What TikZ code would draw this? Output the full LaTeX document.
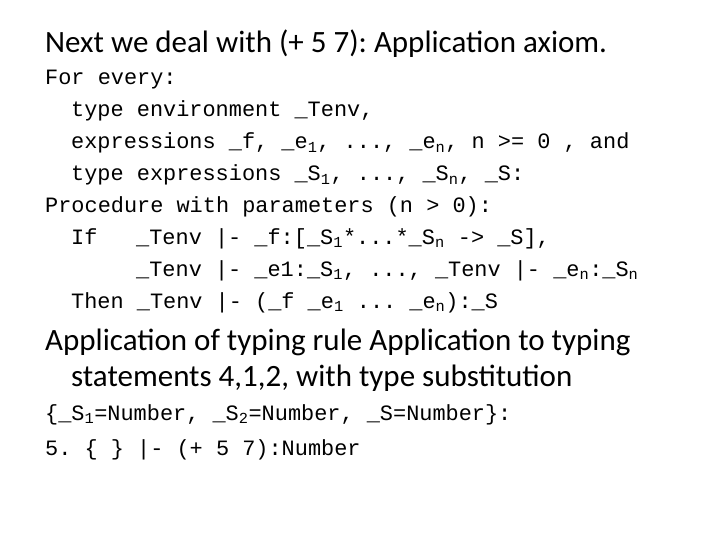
\documentclass[tikz,border=0pt]{standalone}
\usepackage{fontspec}
\setmainfont{Carlito}
\newfontfamily\mono{Liberation Mono}
\newcommand{\sbx}[1]{\textsubscript{#1}}
\frenchspacing
\begin{document}
\begin{tikzpicture}[x=1pt,y=-1pt,
  head/.style={anchor=base west,inner sep=0pt,font=\fontsize{31}{36}\selectfont},
  code/.style={anchor=base west,inner sep=0pt,font=\mono\fontsize{21.9}{24}\selectfont}]
\useasboundingbox (0,0) rectangle (720,540);
\node[head] (h1) at (45,53) {Next we deal with (+ 5 7): Application axiom.};
\node[code] (c1) at (45,85) {For every:};
\node[code] (c2) at (71,117) {type environment \_Tenv,};
\node[code] (c3) at (71,149) {expressions \_f, \_e\sbx{1}, ..., \_e\sbx{n}, n >= 0 , and};
\node[code] (c4) at (71,181) {type expressions \_S\sbx{1}, ..., \_S\sbx{n}, \_S:};
\node[code] (c5) at (45,213) {Procedure with parameters (n > 0):};
\node[code] (c6) at (71,244) {If};
\node[code] (c6b) at (136,244) {\_Tenv |- \_f:[\_S\sbx{1}*...*\_S\sbx{n} -> \_S],};
\node[code] (c7) at (136,276) {\_Tenv |- \_e1:\_S\sbx{1}, ..., \_Tenv |- \_e\sbx{n}:\_S\sbx{n}};
\node[code] (c8) at (71,308) {Then \_Tenv |- (\_f \_e\sbx{1} ... \_e\sbx{n}):\_S};
\node[head] (h2) at (45,350) {Application of typing rule Application to typing};
\node[head] (h3) at (71,386) {statements 4,1,2, with type substitution};
\node[code] (c9) at (45,420) {\{\_S\sbx{1}=Number, \_S\sbx{2}=Number, \_S=Number\}:};
\node[code] (c10) at (45,455) {5. \{ \} |- (+ 5 7):Number};
\end{tikzpicture}
\end{document}
